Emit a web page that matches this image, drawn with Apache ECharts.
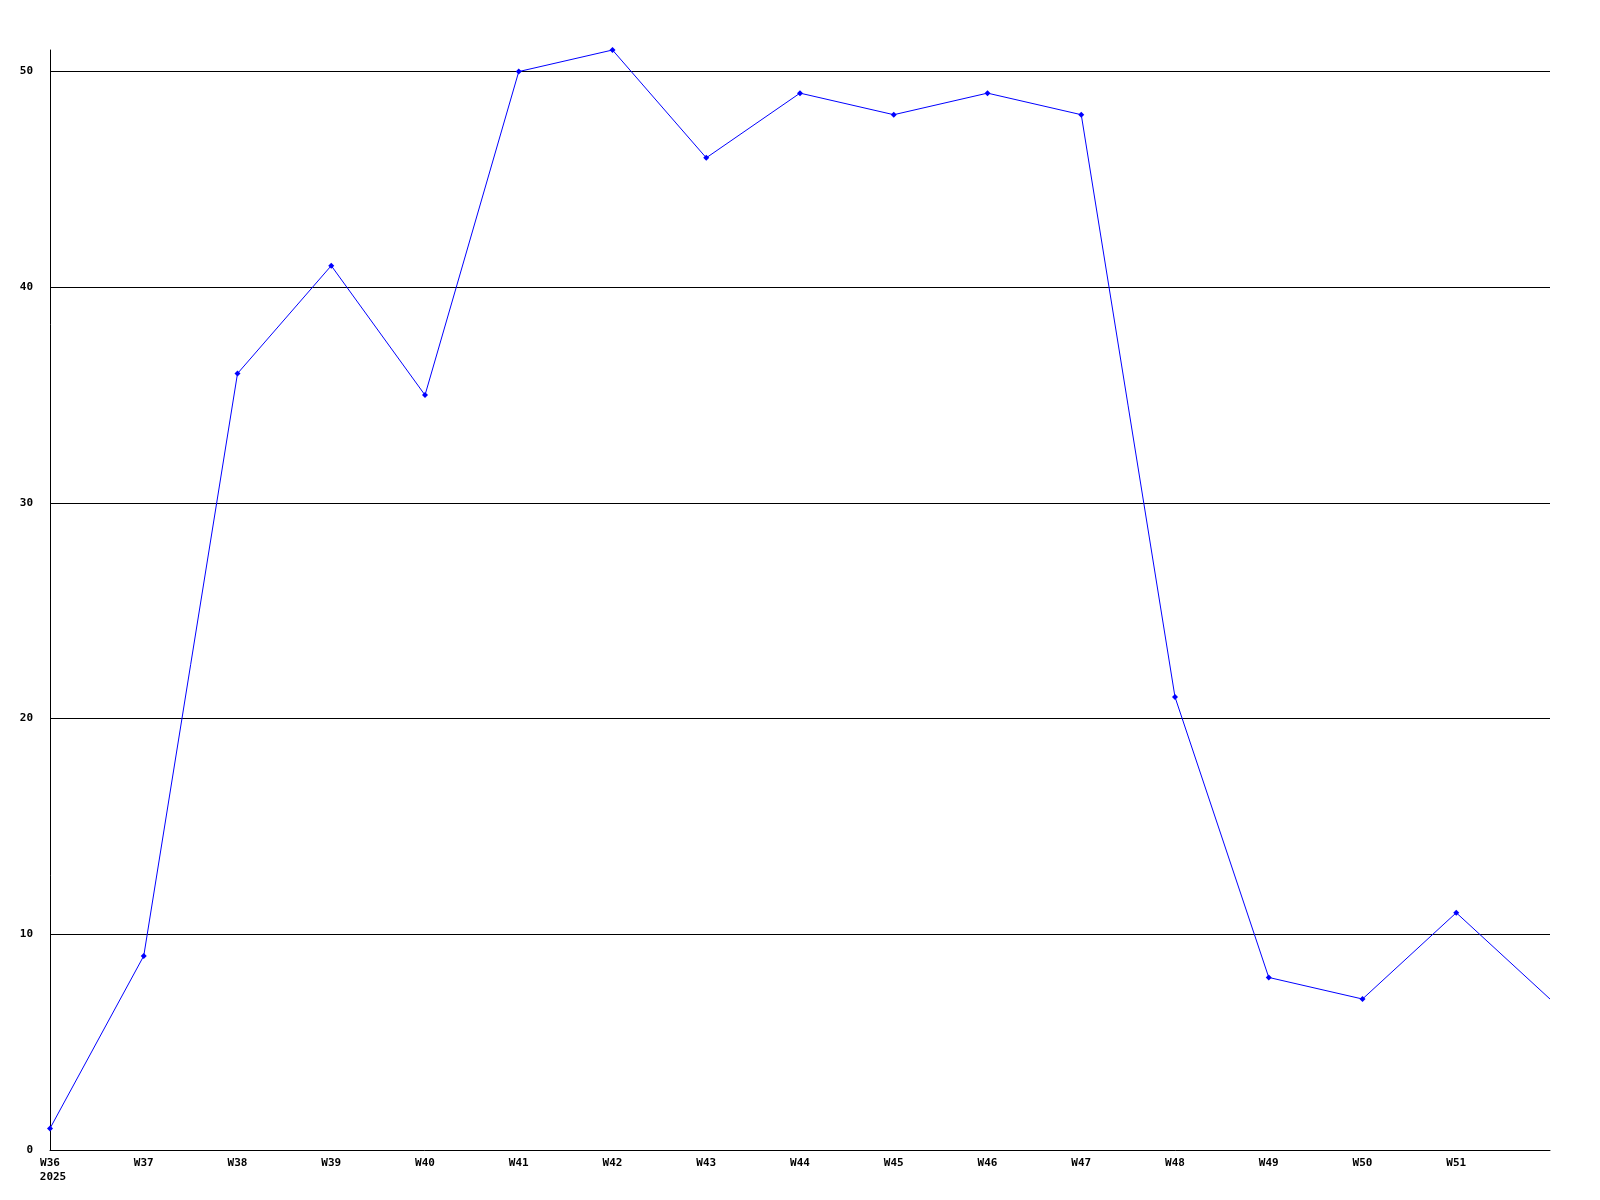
<!DOCTYPE html>
<html>
<head>
<meta charset="utf-8">
<script src="https://cdn.jsdelivr.net/npm/echarts@6/dist/echarts.min.js"></script>
<style>
  html, body { margin: 0; padding: 0; background: #fff; }
  #chart { width: 1600px; height: 1200px; }
</style>
</head>
<body>
<div id="chart"></div>
<script>
const weeks = ['W36', 'W37', 'W38', 'W39', 'W40', 'W41', 'W42', 'W43', 'W44',
  'W45', 'W46', 'W47', 'W48', 'W49', 'W50', 'W51', 'W52']
const counts = [1, 9, 36, 41, 35, 50, 51, 46, 49, 48, 49, 48, 21, 8, 7, 11, 7]
const yTicks = [0, 10, 20, 30, 40, 50]
const gridValues = [10, 20, 30, 40, 50]
const yearLabel = '2025'

const font = 'DejaVu Sans Mono'

const chart = echarts.init(document.getElementById('chart'))
chart.setOption({
  animation: false,
  backgroundColor: '#fff',
  grid: { left: 50, right: 50, top: 50, bottom: 50 },
  xAxis: {
    type: 'category',
    data: weeks,
    boundaryGap: false,
    axisLine: { lineStyle: { color: '#000', width: 1 } },
    axisTick: { show: false },
    splitLine: { show: false },
    axisLabel: {
      interval: 0,
      margin: 6,
      fontFamily: font,
      fontWeight: 'bold',
      fontSize: 11,
      color: '#000',
      lineHeight: 14,
      // first week carries the year underneath, last week has no label
      formatter: (val, idx) => {
        if (idx === weeks.length - 1) return ''
        if (idx === 0) return '{w|' + val + '}\n{y|' + yearLabel + '}'
        return val
      },
      rich: {
        w: { fontFamily: font, fontWeight: 'bold', fontSize: 11, color: '#000', lineHeight: 14 },
        y: { fontFamily: font, fontWeight: 'bold', fontSize: 11, color: '#000', lineHeight: 14, padding: [0, 0, 0, 6] }
      }
    }
  },
  yAxis: {
    type: 'value',
    min: 0,
    max: 51,
    axisLine: { show: true, lineStyle: { color: '#000', width: 1 } },
    axisTick: { show: false },
    splitLine: { show: false },
    axisLabel: {
      customValues: yTicks,
      margin: 17,
      fontFamily: font,
      fontWeight: 'bold',
      fontSize: 11,
      color: '#000'
    }
  },
  series: [{
    type: 'line',
    // the last point sits on the plot edge without a marker
    data: counts.map((v, i) => i === counts.length - 1 ? { value: v, symbol: 'none' } : v),
    symbol: 'diamond',
    symbolSize: 6,
    showSymbol: true,
    lineStyle: { color: '#0000ff', width: 1 },
    itemStyle: { color: '#0000ff' },
    z: 5,
    markLine: {
      silent: true,
      symbol: 'none',
      label: { show: false },
      lineStyle: { color: '#000', width: 1, type: 'solid' },
      z: 1,
      data: gridValues.map(v => ({ yAxis: v }))
    }
  }]
})
</script>
</body>
</html>
